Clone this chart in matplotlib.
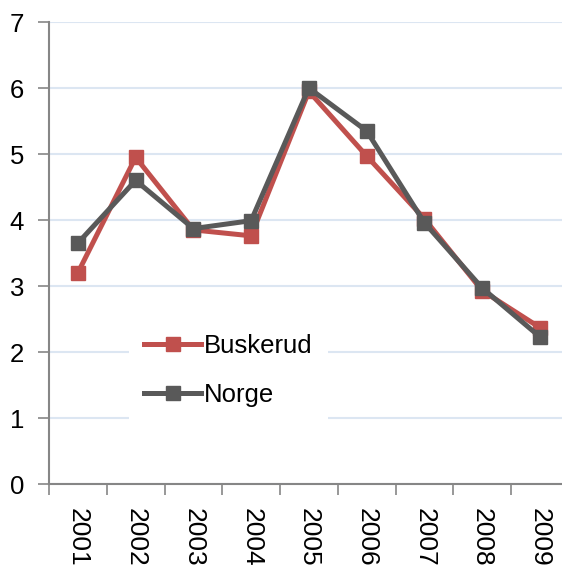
import numpy as np
import matplotlib
matplotlib.use("Agg")
import matplotlib.pyplot as plt

# Data
years = ["2001", "2002", "2003", "2004", "2005", "2006", "2007", "2008", "2009"]
buskerud = [3.20, 4.95, 3.85, 3.76, 5.95, 4.97, 4.02, 2.93, 2.37]
norge = [3.65, 4.60, 3.87, 3.99, 6.00, 5.35, 3.96, 2.97, 2.23]
y_ticks = [0, 1, 2, 3, 4, 5, 6, 7]

plt.rcParams['font.family'] = ['Liberation Sans', 'DejaVu Sans']

fig = plt.figure(figsize=(5.62, 5.66), dpi=100)
ax = fig.add_axes([49 / 562, 82 / 566, 519.75 / 562, 462 / 566])

x = np.arange(len(years))
ax.plot(x, buskerud, color="#C0504D", lw=3.6, marker="s", ms=10.5,
        label="Buskerud", zorder=3)
ax.plot(x, norge, color="#595959", lw=3.6, marker="s", ms=10.5,
        label="Norge", zorder=4)

ax.set_xlim(-0.5, len(years) - 0.5)
ax.set_ylim(0, 7)
ax.set_yticks(y_ticks)
ax.grid(axis="y", color="#DCE6F2", lw=1.5, zorder=0)

# category boundaries as major ticks, labels centred on minor ticks
ax.set_xticks(np.arange(len(years) + 1) - 0.5)
ax.set_xticklabels([])
ax.set_xticks(x, minor=True)
ax.set_xticklabels(years, minor=True, rotation=-90, fontsize=19)
ax.tick_params(axis="x", which="minor", length=0, pad=17)
ax.tick_params(axis="x", which="major", length=8, width=1.2, color="#868686")
ax.tick_params(axis="y", length=8, width=1.2, color="#868686", labelsize=18.5, pad=10)

for s in ["top", "right"]:
    ax.spines[s].set_visible(False)
for s in ["left", "bottom"]:
    ax.spines[s].set_color("#868686")
    ax.spines[s].set_linewidth(1.5)

leg = ax.legend(loc="upper left", bbox_to_anchor=(0.154, 0.357), borderaxespad=0,
                fontsize=18.5, handlelength=2.2, handletextpad=0.1,
                labelspacing=0.97, borderpad=0.6, frameon=True, fancybox=False)
leg.get_frame().set_facecolor("white")
leg.get_frame().set_edgecolor("none")
leg.get_frame().set_alpha(1)
leg.set_zorder(5)

fig.savefig("out.png", dpi=100)
